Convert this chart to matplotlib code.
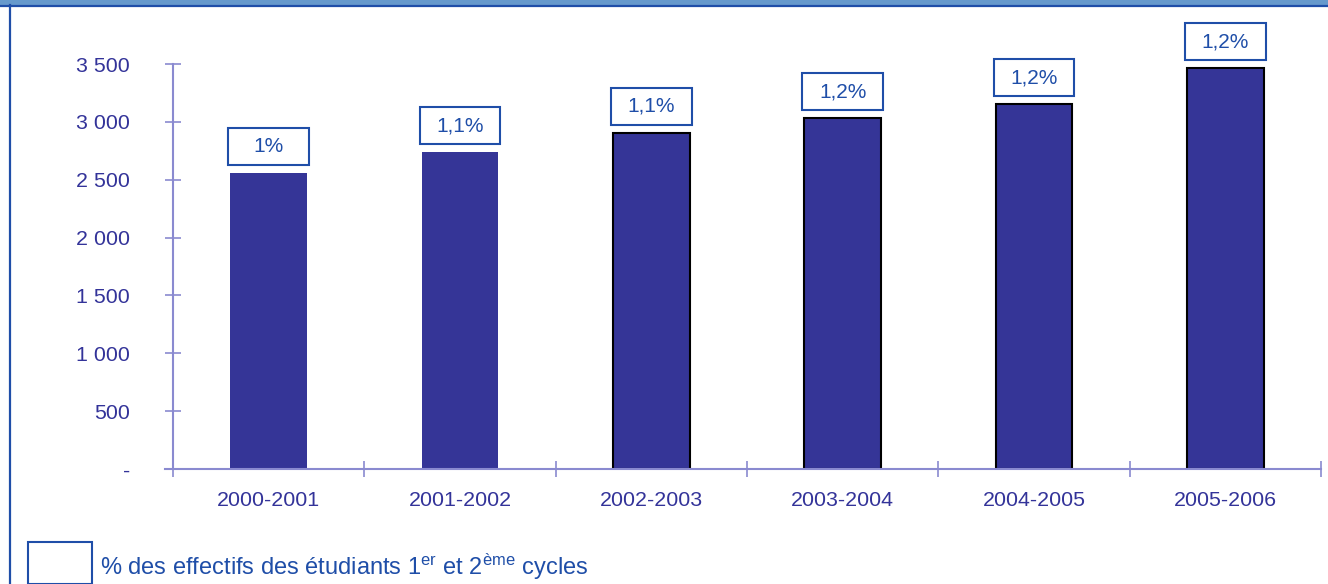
import matplotlib
matplotlib.use("Agg")
import matplotlib.pyplot as plt
from matplotlib.patches import Rectangle
from matplotlib.lines import Line2D
from matplotlib.ticker import FixedLocator, FuncFormatter

categories = ["2000-2001", "2001-2002", "2002-2003", "2003-2004", "2004-2005", "2005-2006"]
values = [2558, 2739, 2904, 3033, 3154, 3465]
pct_labels = ["1%", "1,1%", "1,1%", "1,2%", "1,2%", "1,2%"]
yticks = [0, 500, 1000, 1500, 2000, 2500, 3000, 3500]
legend_label = "% des effectifs des étudiants 1$^{\\mathrm{er}}$ et 2$^{\\mathrm{ème}}$ cycles"

plt.rcParams['font.family'] = ['Liberation Sans', 'DejaVu Sans']
plt.rcParams['mathtext.fontset'] = 'custom'
plt.rcParams['mathtext.rm'] = 'Liberation Sans'
plt.rcParams['mathtext.it'] = 'Liberation Sans'

W, H = 1328, 584
fig = plt.figure(figsize=(W / 100, H / 100), dpi=100)

BAR = "#353597"
TXT = "#333399"
AX = "#8A8AD0"
FRAME = "#1F4EA8"
LIGHT = "#6699CC"

# frame decorations
fig.patches.append(Rectangle((0, 1 - 5 / H), 1, 5 / H, transform=fig.transFigure,
                             facecolor=LIGHT, edgecolor='none', zorder=0))
fig.lines.append(Line2D([0, 1], [1 - 5.5 / H, 1 - 5.5 / H], transform=fig.transFigure,
                        color=FRAME, lw=1.6))
fig.lines.append(Line2D([10 / W, 10 / W], [0, 1 - 5 / H], transform=fig.transFigure,
                        color=FRAME, lw=1.6))

ax = fig.add_axes([173 / W, 1 - 469 / H, (1321 - 173) / W, (469 - 64) / H])
x = list(range(len(categories)))
for i, v in enumerate(values):
    ec = 'none' if i < 2 else 'black'
    ax.bar(i, v, width=0.40, color=BAR, edgecolor=ec, linewidth=1.5, zorder=2)

ax.set_xlim(-0.5, len(categories) - 0.5)
ax.set_ylim(0, 3500)
for s in ['top', 'right']:
    ax.spines[s].set_visible(False)
ax.spines['left'].set_color(AX)
ax.spines['left'].set_linewidth(1.5)
ax.spines['bottom'].set_visible(False)
# x axis line extending slightly left of the y axis
ax.add_line(Line2D([-0.54, len(categories) - 0.5], [0, 0], color=AX, lw=1.5,
                   clip_on=False, zorder=3))

ax.yaxis.set_major_locator(FixedLocator(yticks))
ax.yaxis.set_major_formatter(FuncFormatter(
    lambda v, p: "-" if v == 0 else f"{int(v):,}".replace(",", " ")))
ax.tick_params(axis='y', direction='inout', length=12, width=1.2, color=AX,
               labelcolor=TXT, labelsize=15.4, pad=25)

ax.set_xticks([i - 0.5 for i in range(len(categories) + 1)])
ax.set_xticklabels([])
ax.set_xticks(x, minor=True)
ax.set_xticklabels(categories, minor=True)
ax.tick_params(axis='x', which='major', direction='inout', length=12, width=1.2, color=AX)
ax.tick_params(axis='x', which='minor', length=0, labelcolor=TXT, labelsize=15.4, pad=16)

fig.canvas.draw()
# percentage boxes above bars
for i, (v, lab) in enumerate(zip(values, pct_labels)):
    xl, yt = ax.transData.transform((i - 0.21, v))
    xr, _ = ax.transData.transform((i + 0.21, v))
    y0 = yt + 8
    hgt = 37
    fig.patches.append(Rectangle((xl / W, y0 / H), (xr - xl) / W, hgt / H,
                                 transform=fig.transFigure, facecolor='white',
                                 edgecolor=FRAME, linewidth=1.5, zorder=3))
    fig.text((xl + xr) / 2 / W, (y0 + hgt / 2) / H, lab, ha='center', va='center',
             color=FRAME, fontsize=15, zorder=4)

# legend
fig.patches.append(Rectangle((28 / W, 0), 64 / W, (H - 542) / H, transform=fig.transFigure,
                             facecolor='white', edgecolor=FRAME, linewidth=1.5))
fig.text(100 / W, 1 - 567 / H, legend_label, ha='left', va='center', color=FRAME,
         fontsize=17)

fig.savefig("out.png", dpi=100)
